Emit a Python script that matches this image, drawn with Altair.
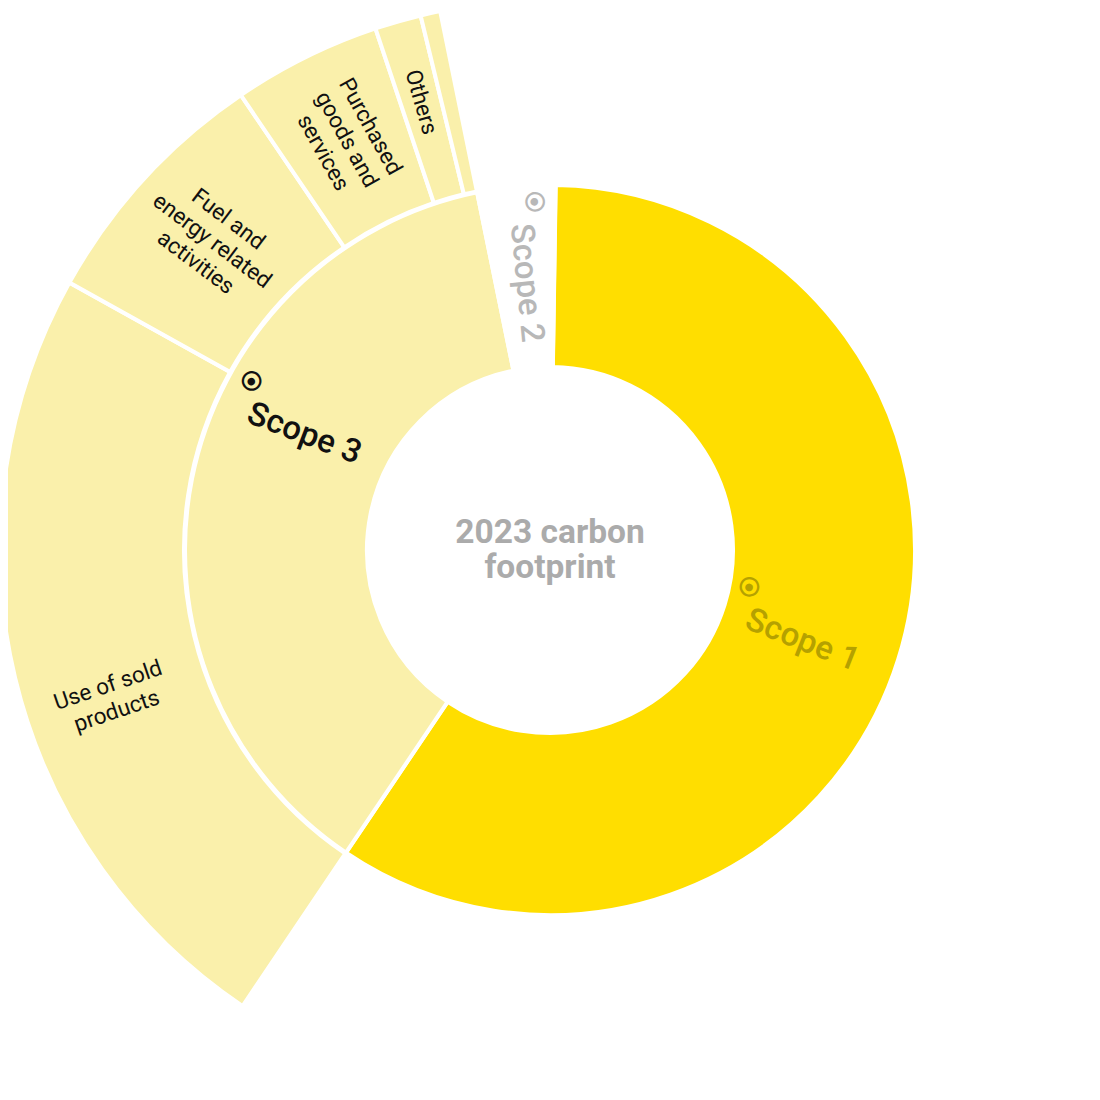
import math
import altair as alt
import pandas as pd

# ---------------- data (shares of the 2023 carbon footprint, %) ----------------
scope_names = ["Scope 1", "Scope 3", "Scope 2"]
scope_values = [59.19, 37.36, 3.44]

child_names = ["Use of sold products", "Fuel and energy related activities",
               "Purchased goods and services", "Others", "Other (minor)"]
child_values = [23.64, 7.42, 4.36, 1.36, 0.58]
child_label_lines = [["Use of sold", "products"], ["Fuel and", "energy related", "activities"],
                     ["Purchased", "goods and", "services"], ["Others"], []]

center_title = ["2023 carbon", "footprint"]

# ---------------- styles ----------------
START_DEG = 0.9
FILL = {"Scope 1": "#FFDE00", "Scope 3": "#FAF0AB", "Scope 2": "#FFFFFF"}
CHILD_FILL = "#FAF0AB"
SCOPE_LABEL_COLOR = {"Scope 1": "#B5A100", "Scope 3": "#111111", "Scope 2": "#B8B8B8"}
# label placement tweaks: angular shift (deg), rotation tweak (deg), radius (px)
SCOPE_LABEL_STYLE = {"Scope 1": (2.25, 1.8, 268), "Scope 3": (14.1, -4.4, 272),
                     "Scope 2": (0.3, -0.6, 268)}
CHILD_LABEL_STYLE = {"Use of sold products": (-5.25, 0.0, 462),
                     "Fuel and energy related activities": (0.0, -5.4, 458),
                     "Purchased goods and services": (0.0, -2.6, 458),
                     "Others": (0.0, 0.0, 466), "Other (minor)": (0.0, 0.0, 462)}
ICON_OFFSET = {"Scope 1": (-69, -30), "Scope 3": (-68, -30), "Scope 2": (-80, -16)}
CHILD_FONT = 22.5
CHILD_LH = 27

start_rad = math.radians(START_DEG)
theta_scale = alt.Scale(domain=[0, 100], range=[start_rad, start_rad + 2 * math.pi])


def radial_rot(deg):
    deg = deg % 360
    return deg - 90 if deg < 180 else deg - 270


# inner ring
rows = []
acc = 0.0
for n, v in zip(scope_names, scope_values):
    rows.append({"name": n, "start": acc, "end": acc + v, "fill": FILL[n]})
    acc += v
inner_df = pd.DataFrame(rows)

# outer ring (children of Scope 3)
scope3_start = inner_df.loc[inner_df.name == "Scope 3", "start"].iloc[0]
rows = []
acc = scope3_start
for n, v in zip(child_names, child_values):
    rows.append({"name": n, "start": acc, "end": acc + v, "fill": CHILD_FILL})
    acc += v
outer_df = pd.DataFrame(rows)

# label tables
srows = []
for _, r in inner_df.iterrows():
    shift, rt, rad = SCOPE_LABEL_STYLE[r["name"]]
    mid = (r["start"] + r["end"]) / 2 + shift / 3.6
    deg = START_DEG + mid * 3.6
    srows.append({"name": r["name"], "pos": mid, "r": rad,
                  "rot": (radial_rot(deg) + rt) % 360,
                  "color": SCOPE_LABEL_COLOR[r["name"]]})
scope_lab = pd.DataFrame(srows)

# ---------------- chart ----------------
inner = alt.Chart(inner_df).mark_arc(radius=365, radius2=183, stroke="white", strokeWidth=4).encode(
    theta=alt.Theta("start:Q", scale=theta_scale, stack=None),
    theta2="end:Q",
    color=alt.Color("fill:N", scale=None),
)

outer = alt.Chart(outer_df).mark_arc(radius=550, radius2=366, stroke="white", strokeWidth=4).encode(
    theta=alt.Theta("start:Q", scale=theta_scale, stack=None),
    theta2="end:Q",
    color=alt.Color("fill:N", scale=None),
)

child_layers = []
for (_, r), lines in zip(outer_df.iterrows(), child_label_lines):
    if not lines:
        continue
    shift, rt, rad = CHILD_LABEL_STYLE[r["name"]]
    mid = (r["start"] + r["end"]) / 2 + shift / 3.6
    deg = START_DEG + mid * 3.6
    d = pd.DataFrame([{"pos": mid, "r": rad, "rot": (radial_rot(deg) + rt) % 360}])
    n = len(lines)
    child_layers.append(
        alt.Chart(d).mark_text(
            text=lines, font="Roboto", fontSize=CHILD_FONT, lineHeight=CHILD_LH,
            align="center", baseline="middle", color="#111111",
            dy=-(n - 1) * CHILD_LH / 2,
        ).encode(
            theta=alt.Theta("pos:Q", scale=theta_scale, stack=None),
            radius=alt.Radius("r:Q", scale=None),
            angle=alt.Angle("rot:Q", scale=None),
        )
    )

scope_text = alt.Chart(scope_lab).mark_text(
    font="Roboto", fontSize=33, fontWeight=500, align="center", baseline="middle",
).encode(
    theta=alt.Theta("pos:Q", scale=theta_scale, stack=None),
    radius=alt.Radius("r:Q", scale=None),
    angle=alt.Angle("rot:Q", scale=None),
    color=alt.Color("color:N", scale=None),
    text="name:N",
)

icons = []
for n in scope_names:
    dx, dy = ICON_OFFSET[n]
    sub = scope_lab[scope_lab.name == n]
    enc = dict(
        theta=alt.Theta("pos:Q", scale=theta_scale, stack=None),
        radius=alt.Radius("r:Q", scale=None),
        angle=alt.Angle("rot:Q", scale=None),
        color=alt.Color("color:N", scale=None),
    )
    icons.append(
        alt.Chart(sub).mark_text(
            font="DejaVu Sans", fontSize=30, align="center", baseline="middle", dx=dx, dy=dy,
            text="\u2299",
        ).encode(**enc)
    )
    icons.append(
        alt.Chart(sub).mark_text(
            font="DejaVu Sans", fontSize=10, align="center", baseline="middle", dx=dx, dy=dy,
            text="\u25CF",
        ).encode(**enc)
    )

center = alt.Chart(pd.DataFrame({"t": [0]})).mark_text(
    text=center_title, font="Roboto", fontSize=33.5, fontWeight="bold", color="#ABABAB",
    lineHeight=35, align="center", baseline="middle", dy=-17.5,
).encode(x=alt.value(542), y=alt.value(542))

chart = alt.layer(inner, outer, *child_layers, scope_text, *icons, center).properties(
    width=1084, height=1084, padding=0, autosize=alt.AutoSizeParams(type="none"),
).configure_view(stroke=None)

chart.save("out.html", embed_options={"renderer": "svg", "actions": False})
